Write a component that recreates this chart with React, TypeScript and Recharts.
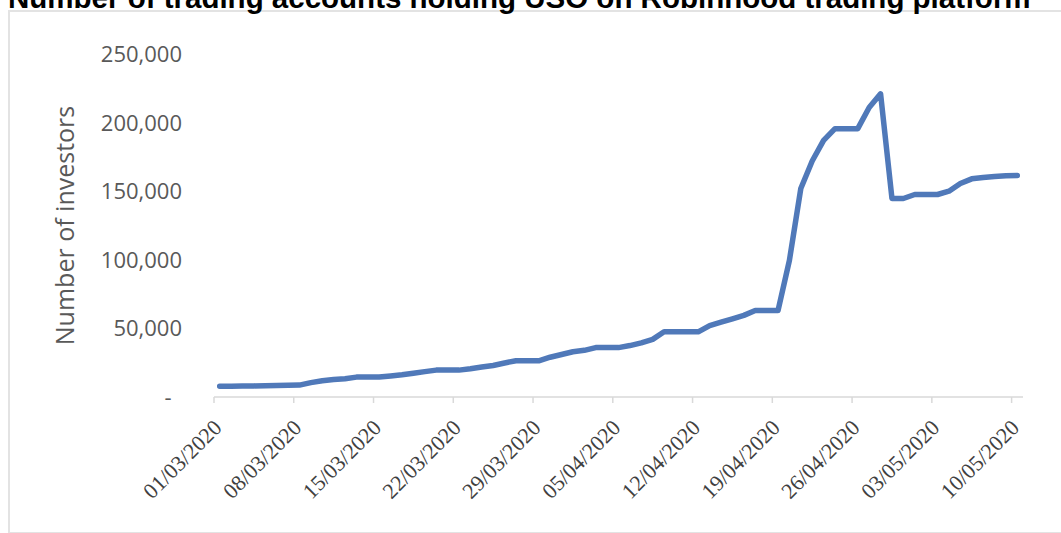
import { LineChart, Line, XAxis, YAxis } from "recharts";

// daily holders of USO on Robinhood, 01/03/2020 .. 10/05/2020
const investors = [
  7800, 7900, 8000, 8100, 8200, 8300, 8500, 8700, 10500, 11800,
  12700, 13300, 14500, 14500, 14500, 15300, 16200, 17300, 18500, 19600,
  19600, 19600, 20600, 21800, 23000, 24800, 26400, 26400, 26400, 29000,
  31000, 33000, 34000, 36000, 36000, 36000, 37500, 39500, 42000, 47500,
  47500, 47500, 47500, 52000, 54500, 57000, 59500, 63000, 63000, 63000,
  99600, 152000, 172000, 187000, 195600, 195600, 195600, 211000, 221000, 144700,
  144700, 147600, 147600, 147600, 150000, 155600, 159000, 160000, 160700, 161200,
  161400,
];

const weekLabels = [
  "01/03/2020", "08/03/2020", "15/03/2020", "22/03/2020", "29/03/2020", "05/04/2020",
  "12/04/2020", "19/04/2020", "26/04/2020", "03/05/2020", "10/05/2020",
];

const yTicks = [0, 50000, 100000, 150000, 200000, 250000];

const TITLE = "Number of trading accounts holding USO on Robinhood trading platform";

// each day sits in the middle of its slot on the date axis
const data = investors.map((v, i) => ({ day: i + 0.5, investors: v }));
const weekTicks = weekLabels.map((_, i) => i * 7);

const serif = "'Liberation Serif', 'Times New Roman', serif";
const sans = "'Open Sans', sans-serif";

const XTick = (props: any) => {
  const { x, y, payload } = props;
  const label = weekLabels[Math.round(payload.value / 7)] ?? "";
  const ax = x + 9;
  const ay = y + 24;
  return (
    <text
      x={ax}
      y={ay}
      transform={`rotate(-45 ${ax} ${ay})`}
      textAnchor="end"
      fill="#404040"
      style={{ fontFamily: serif, fontSize: 22 }}
    >
      {label}
    </text>
  );
};

const YTick = (props: any) => {
  const { x, y, payload } = props;
  const zero = payload.value === 0;
  return (
    <text
      x={zero ? 168 : x}
      y={y}
      dy={8}
      textAnchor={zero ? "middle" : "end"}
      fill="#595959"
      style={{ fontFamily: sans, fontSize: 22 }}
    >
      {zero ? "-" : payload.value.toLocaleString("en-US")}
    </text>
  );
};

export default function App() {
  return (
    <div style={{ position: "fixed", left: 0, top: 0, width: 1061, height: 533, overflow: "hidden", background: "#fff" }}>
      {/* chart frame, cut off on the right like the screenshot */}
      <div
        style={{
          position: "absolute",
          left: 8,
          top: 10,
          width: 1100,
          height: 520,
          border: "2px solid #e3e3e3",
        }}
      />
      <svg width={1061} height={30} style={{ position: "absolute", left: 0, top: 0 }}>
        <text
          x={8}
          y={8}
          fill="#000"
          style={{ fontFamily: "'Liberation Sans', Arial, sans-serif", fontWeight: 700, fontSize: 29.5 }}
        >
          {TITLE}
        </text>
      </svg>
      <div style={{ position: "absolute", left: 0, top: 0 }}>
        <LineChart width={1061} height={533} data={data} margin={{ top: 54, right: 38, left: 0, bottom: 0 }}>
          <XAxis
            type="number"
            dataKey="day"
            domain={[0, 71]}
            ticks={weekTicks}
            interval={0}
            height={136}
            tickSize={6}
            tickMargin={2}
            tick={<XTick />}
            tickLine={{ stroke: "#d9d9d9", strokeWidth: 1.5 }}
            axisLine={{ stroke: "#d9d9d9", strokeWidth: 1.5 }}
          />
          <YAxis
            type="number"
            domain={[0, 250000]}
            ticks={yTicks}
            interval={0}
            width={214}
            tickSize={0}
            tickMargin={32}
            axisLine={false}
            tickLine={false}
            tick={<YTick />}
            label={{
              value: "Number of investors",
              angle: -90,
              position: "insideLeft",
              offset: 65,
              style: { textAnchor: "middle", fontFamily: sans, fontSize: 25, fill: "#595959" },
            }}
          />
          <Line
            type="linear"
            dataKey="investors"
            stroke="#5079b9"
            strokeWidth={5.5}
            strokeLinejoin="round"
            strokeLinecap="round"
            dot={false}
            activeDot={false}
            isAnimationActive={false}
          />
        </LineChart>
      </div>
    </div>
  );
}
